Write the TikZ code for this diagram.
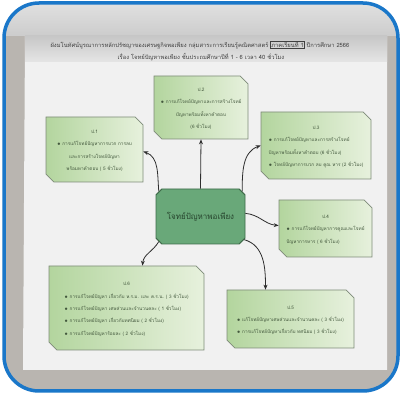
\documentclass[tikz,border=0pt]{standalone}
\usepackage{fontspec}
\newfontfamily\thai[Script=Thai]{Loma}
\usetikzlibrary{shapes.misc,arrows.meta}
\definecolor{frameblue}{HTML}{1A77C9}
\definecolor{lace}{HTML}{B9B5B0}
\definecolor{paper}{HTML}{F1F1F1}
\definecolor{boxl}{HTML}{B3D59E}
\definecolor{boxr}{HTML}{E7F1DD}
\definecolor{boxedge}{HTML}{7E8B79}
\definecolor{txt}{HTML}{43583D}
\definecolor{hubfill}{HTML}{69A879}
\definecolor{hubedge}{HTML}{3E6B49}
\definecolor{hubtxt}{HTML}{27452E}
\definecolor{linec}{HTML}{2E2E2E}
\newcommand\bl{$\scriptstyle\bullet$\ }
\newcommand\hd[1]{\multicolumn{1}{@{}c@{}}{#1}}
\newenvironment{ltab}{\begin{tabular}{@{}l@{}}}{\end{tabular}}
\newenvironment{ctab}{\begin{tabular}{@{}c@{}}}{\end{tabular}}
\begin{document}
\begin{tikzpicture}[x=1pt,y=1pt,
  box/.style={chamfered rectangle, chamfered rectangle corners={north east,south west},
    chamfered rectangle xsep=5pt, draw=boxedge, line width=0.7pt,
    left color=boxl, right color=boxr, text=txt, inner sep=0pt,
    font=\thai\fontsize{4.7}{12.3}\selectfont},
  hub/.style={chamfered rectangle, chamfered rectangle xsep=3pt, draw=hubedge, line width=0.9pt,
    fill=hubfill, text=hubtxt, font=\thai\fontsize{8}{10}\selectfont,
    minimum width=89, minimum height=55, inner sep=0pt},
  link/.style={draw=linec, line width=0.8pt, -{Stealth[length=5pt,width=4pt]}},
  title/.style={text=black!75, font=\thai\fontsize{5.8}{7}\selectfont, inner sep=0pt}]
\useasboundingbox (0,0) rectangle (402,405);
\fill[white] (0,0) rectangle (402,405);
% photo background
\begin{scope}
\clip[rounded corners=35] (4,14) rectangle (398,402);
\fill[lace] (4,14) rectangle (398,402);
\shade[top color=black!12, bottom color=black!20] (4,369) rectangle (398,402);
\fill[paper] (25,369) -- (387,369) -- (387,35) -- (23,35) -- cycle;
\shade[top color=black!22, bottom color=black!10] (25,369) rectangle (387,343);
\end{scope}
\draw[frameblue, line width=3.5pt, rounded corners=35] (4,14) rectangle (398,402);
% title
\node[title] (t1) at (200,360) {ผังมโนทัศน์บูรณาการหลักปรัชญาของเศรษฐกิจพอเพียง กลุ่มสาระการเรียนรู้คณิตศาสตร์ {\setlength\fboxsep{0.6pt}\fbox{ภาคเรียนที่ 1}} ปีการศึกษา 2566};
\node[title] (t2) at (201,348) {เรื่อง โจทย์ปัญหาพอเพียง ชั้นประถมศึกษาปีที่ 1 - 6 เวลา 40 ชั่วโมง};
% nodes
\node[hub] (c) at (200.5,188.5) {โจทย์ปัญหาพอเพียง};
\node[box, minimum width=97, minimum height=65] (p1) at (94.5,255.5)
  {\begin{ctab}ป.1\\\bl การแก้โจทย์ปัญหาการบวก การลบ\\และการสร้างโจทย์ปัญหา\\พร้อมหาคำตอบ ( 5 ชั่วโมง)\end{ctab}};
\node[box, minimum width=94, minimum height=63] (p2) at (201,297.5)
  {\begin{ctab}ป.2\\\bl การแก้โจทย์ปัญหาและการสร้างโจทย์\\ปัญหาพร้อมทั้งหาคำตอบ\\(6 ชั่วโมง)\end{ctab}};
\node[box, minimum width=110, minimum height=67] (p3) at (316,259.5)
  {\begin{ltab}\hd{ป.3}\\\bl การแก้โจทย์ปัญหาและการสร้างโจทย์\\ปัญหาพร้อมทั้งหาคำตอบ (6 ชั่วโมง)\\\bl โจทย์ปัญหาการบวก ลบ คูณ หาร (2 ชั่วโมง)\end{ltab}};
\node[box, minimum width=93, minimum height=57] (p4) at (325.5,176.5)
  {\begin{ltab}\hd{ป.4}\\\bl การแก้โจทย์ปัญหาการคูณและโจทย์\\ปัญหาการหาร ( 6 ชั่วโมง)\end{ltab}};
\node[box, minimum width=127, minimum height=58] (p5) at (290.5,86)
  {\begin{ltab}\hd{ป.5}\\\bl แก้โจทย์ปัญหาเศษส่วนและจำนวนคละ ( 3 ชั่วโมง)\\\bl การแก้โจทย์ปัญหาเกี่ยวกับ ทศนิยม ( 3 ชั่วโมง)\end{ltab}};
\node[box, minimum width=155, minimum height=84] (p6) at (126.5,97)
  {\begin{ltab}\hd{ป.6}\\\bl การแก้โจทย์ปัญหา เกี่ยวกับ ห.ร.ม. และ ค.ร.น. ( 3 ชั่วโมง)\\\bl การแก้โจทย์ปัญหา เศษส่วนและจำนวนคละ ( 1 ชั่วโมง)\\\bl การแก้โจทย์ปัญหา เกี่ยวกับทศนิยม ( 2 ชั่วโมง)\\\bl การแก้โจทย์ปัญหาร้อยละ ( 2 ชั่วโมง)\end{ltab}};
% connectors
\draw[link] (c.149) to[out=95,in=-20] ([yshift=-2]p1.east);
\draw[link] (c.north) -- (p2.south);
\draw[link] (c.31) to[out=90,in=200] (p3.west);
\draw[link] (c.4) to[out=-5,in=175] ([yshift=3]p4.west);
\draw[link] (c.-28) to[out=-15,in=90] ([xshift=-25]p5.north);
\draw[link] (c.211) to[out=240,in=85] ([xshift=16]p6.north);
\end{tikzpicture}
\end{document}
